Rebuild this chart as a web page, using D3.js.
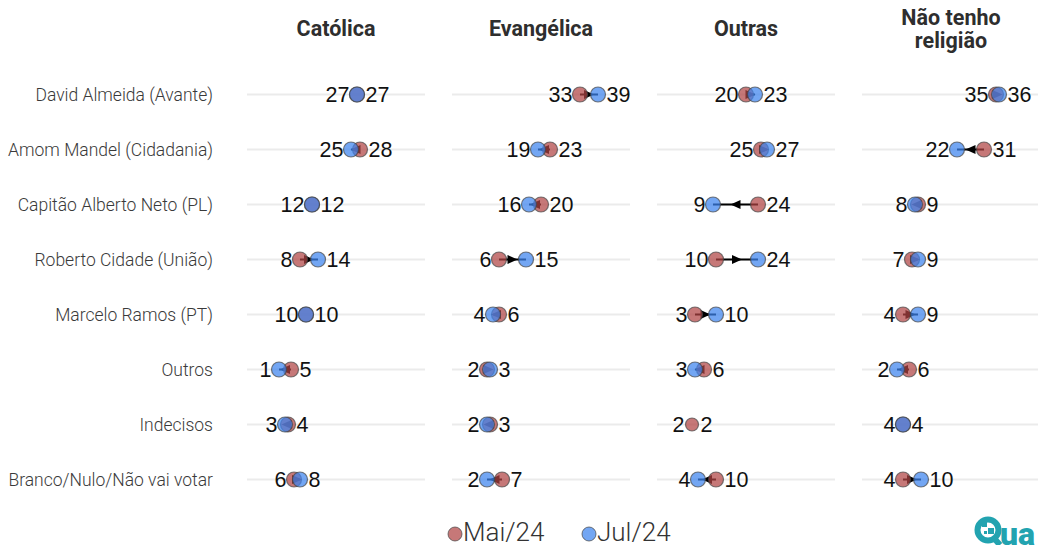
<!DOCTYPE html>
<html><head><meta charset="utf-8">
<script src="https://cdn.jsdelivr.net/npm/d3@7"></script>
<style>body{margin:0;background:#fff;}svg{display:block;}</style>
</head><body>
<svg id="c" width="1038" height="545"></svg>
<script>
const categories = ["David Almeida (Avante)","Amom Mandel (Cidadania)","Capitão Alberto Neto (PL)","Roberto Cidade (União)","Marcelo Ramos (PT)","Outros","Indecisos","Branco/Nulo/Não vai votar"];
const panels = ["Católica","Evangélica","Outras","Não tenho religião"];
const panelTitles = [["Católica"],["Evangélica"],["Outras"],["Não tenho","religião"]];
// Mai/24 and Jul/24 values per panel (rows follow categories)
const maiCatolica   = [27,28,12,8,10,5,4,6];
const julCatolica   = [27,25,12,14,10,1,3,8];
const maiEvangelica = [33,23,20,6,6,2,3,7];
const julEvangelica = [39,19,16,15,4,3,2,2];
const maiOutras     = [20,25,24,10,3,6,2,10];
const julOutras     = [23,27,9,24,10,3,null,4];
const maiSemReligiao= [35,31,9,7,4,6,4,4];
const julSemReligiao= [36,22,8,9,9,2,4,10];
const seriesNames = ["Mai/24","Jul/24"];

const mai = [maiCatolica,maiEvangelica,maiOutras,maiSemReligiao];
const jul = [julCatolica,julEvangelica,julOutras,julSemReligiao];

const svg = d3.select("#c");
const colMai = "#b04444", colJul = "#3d84ee";
const panelX0 = 247, panelW = 178, panelGap = 27;
const y = d3.scalePoint().domain(categories).range([94.5, 479.5]);
const x = d3.scaleLinear().domain([-9.67, 49.67]).range([0, panelW]);
const R = 7.5;

// y labels
svg.append("g").selectAll("text").data(categories).join("text")
  .attr("x", 213).attr("y", d => y(d)).attr("dy", "0.35em")
  .attr("text-anchor","end").attr("font-family","Roboto").attr("font-weight",300)
  .attr("font-size",17.5).attr("fill","#3a3a3a").text(d => d);

panels.forEach((p, pi) => {
  const g = svg.append("g").attr("transform", `translate(${panelX0 + pi*(panelW+panelGap)},0)`);
  // title
  const lines = panelTitles[pi];
  const t = g.append("text").attr("text-anchor","middle").attr("font-family","Roboto")
    .attr("font-weight",700).attr("font-size",21.5).attr("fill","#2e2e2e");
  lines.forEach((l, li) => {
    t.append("tspan").attr("x", panelW/2)
     .attr("y", lines.length === 1 ? 36 : 24.5 + li*23).text(l);
  });
  // gridlines
  g.selectAll("line.grid").data(categories).join("line").attr("class","grid")
    .attr("x1",0).attr("x2",panelW).attr("y1",d=>y(d)).attr("y2",d=>y(d))
    .attr("stroke","#ebebeb").attr("stroke-width",2);
  const rows = categories.map((c,i) => ({c, m: mai[pi][i], j: jul[pi][i]}));
  // connecting lines + arrows
  rows.forEach(r => {
    if (r.j == null || r.m === r.j) return;
    const yy = y(r.c), x1 = x(r.m), x2 = x(r.j);
    g.append("line").attr("x1",x1).attr("x2",x2).attr("y1",yy).attr("y2",yy)
      .attr("stroke","#000").attr("stroke-width",2);
    const xm = (x1+x2)/2, dir = Math.sign(x2-x1);
    g.append("path").attr("d",`M${xm+5*dir},${yy} L${xm-5*dir},${yy-4.5} L${xm-5*dir},${yy+4.5} Z`)
      .attr("fill","#000");
  });
  // points Mai then Jul
  g.selectAll("circle.m").data(rows).join("circle").attr("class","m")
    .attr("cx",d=>x(d.m)).attr("cy",d=>y(d.c)).attr("r", d => d.j == null ? 6.5 : R)
    .attr("fill",colMai).attr("fill-opacity",0.72)
    .attr("stroke","#444").attr("stroke-opacity",0.7).attr("stroke-width",1.2);
  g.selectAll("circle.j").data(rows.filter(d=>d.j!=null)).join("circle").attr("class","j")
    .attr("cx",d=>x(d.j)).attr("cy",d=>y(d.c)).attr("r",R)
    .attr("fill",colJul).attr("fill-opacity",0.72)
    .attr("stroke","#444").attr("stroke-opacity",0.7).attr("stroke-width",1.2);
  // labels
  rows.forEach(r => {
    const jv = r.j == null ? r.m : r.j;
    const lo = Math.min(r.m, jv), hi = Math.max(r.m, jv);
    const yy = y(r.c);
    g.append("text").attr("x", x(lo)-7.5).attr("y", yy).attr("dy","0.35em")
      .attr("text-anchor","end").attr("font-family","Liberation Sans, Arial")
      .attr("font-size",21.5).attr("fill","#111").text(lo);
    g.append("text").attr("x", x(hi)+8.5).attr("y", yy).attr("dy","0.35em")
      .attr("text-anchor","start").attr("font-family","Liberation Sans, Arial")
      .attr("font-size",21.5).attr("fill","#111").text(hi);
  });
});

// legend
const leg = svg.append("g");
const legX = [455, 589];
seriesNames.forEach((s, i) => {
  leg.append("circle").attr("cx", legX[i]).attr("cy", 534).attr("r", 7)
    .attr("fill", i===0?colMai:colJul).attr("fill-opacity",0.72)
    .attr("stroke","#444").attr("stroke-opacity",0.7);
  leg.append("text").attr("x", legX[i]+8).attr("y", 531.5).attr("dy","0.36em")
    .attr("font-family","Roboto").attr("font-weight",300).attr("font-size",26)
    .attr("fill","#333").text(s);
});

// logo
const logo = svg.append("g");
logo.append("circle").attr("cx",988).attr("cy",530).attr("r",10.5)
  .attr("fill","none").attr("stroke","#22a3b0").attr("stroke-width",6);
logo.append("path").attr("d","M993,537 L1000,545").attr("stroke","#22a3b0").attr("stroke-width",6);
logo.append("rect").attr("x",982).attr("y",522).attr("width",5).attr("height",5).attr("fill","#22a3b0");
logo.append("rect").attr("x",988).attr("y",528).attr("width",6).attr("height",6).attr("fill","#22a3b0");
logo.append("rect").attr("x",984).attr("y",531).attr("width",3).attr("height",3).attr("fill","#22a3b0");
logo.append("text").attr("x",1000).attr("y",545).attr("font-family","Roboto").attr("font-weight",900)
  .attr("font-size",32).attr("fill","#22a3b0").text("ua");
</script>
</body></html>
